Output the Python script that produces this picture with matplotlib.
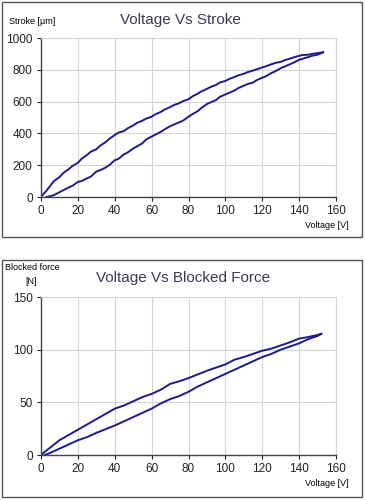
import matplotlib
matplotlib.use("Agg")
import matplotlib.pyplot as plt
import matplotlib.patches as patches

# --- Voltage vs Stroke (hysteresis) ---
stroke_up_v = [3, 5, 7, 10, 12, 15, 17, 20, 22, 25, 27, 30, 32, 35, 37, 40, 42, 45, 47, 50,
               52, 55, 57, 60, 62, 65, 67, 70, 72, 75, 77, 80, 82, 85, 87, 90, 92, 95, 97, 100,
               102, 105, 107, 110, 112, 115, 117, 120, 122, 125, 127, 130, 132, 135, 137, 140,
               142, 145, 147, 150, 153]
stroke_up = [0, 5, 12, 30, 42, 60, 70, 95, 100, 118, 128, 160, 168, 185, 200, 231, 240, 268,
             280, 305, 318, 338, 362, 380, 392, 410, 425, 445, 455, 470, 480, 505, 520, 540,
             560, 585, 595, 610, 630, 645, 655, 670, 685, 700, 710, 720, 735, 750, 760, 780,
             790, 810, 820, 835, 845, 863, 870, 880, 888, 895, 910]
stroke_dn_v = [153, 150, 147, 145, 142, 140, 137, 135, 132, 130, 127, 125, 122, 120, 117, 115,
               112, 110, 107, 105, 102, 100, 97, 95, 92, 90, 87, 85, 82, 80, 77, 75, 72, 70,
               67, 65, 62, 60, 57, 55, 52, 50, 47, 45, 42, 40, 37, 35, 32, 30, 27, 25, 22, 20,
               17, 15, 12, 10, 7, 5, 3, 1, 0]
stroke_dn = [910, 905, 900, 895, 893, 888, 878, 870, 860, 850, 843, 835, 822, 815, 803, 795,
             785, 775, 765, 755, 742, 730, 720, 705, 692, 680, 664, 650, 632, 615, 603, 590,
             578, 565, 550, 535, 520, 505, 493, 480, 466, 450, 432, 415, 405, 390, 365, 345,
             322, 300, 285, 265, 240, 215, 195, 175, 150, 125, 100, 70, 40, 15, 0]

# --- Voltage vs Blocked force ---
force_up_v = [2, 5, 10, 15, 20, 25, 30, 35, 40, 45, 50, 55, 60, 65, 70, 75, 80, 85, 90, 95,
              100, 105, 110, 115, 120, 125, 130, 135, 140, 145, 150, 152]
force_up = [0, 2, 6, 10, 14, 17, 21, 24.5, 28, 32, 36, 40, 44, 49, 53, 56, 60, 65, 69, 73,
            77, 81, 85, 89, 93, 96, 100, 103, 106, 110, 113, 115]
force_dn_v = [152, 150, 145, 140, 135, 130, 125, 120, 115, 110, 105, 100, 95, 90, 85, 80, 75,
              70, 65, 60, 55, 50, 45, 40, 35, 30, 25, 20, 15, 10, 5, 2, 0]
force_dn = [115, 114, 112, 110.5, 107, 104, 101, 99, 96, 93, 90.5, 86, 83, 80, 76.5, 73, 70,
            67.5, 62, 58, 55, 51, 47, 44, 39, 34, 29, 24, 19, 14, 7, 3, 0]

x_ticks = [0, 20, 40, 60, 80, 100, 120, 140, 160]

line_col = '#1c1c8e'
title_col = '#3a3a58'
plt.rcParams['font.family'] = ['Liberation Sans', 'DejaVu Sans']

W, H = 365, 500
fig = plt.figure(figsize=(W / 100, H / 100), dpi=100)


def fx(px):
    return px / W


def fy(py):
    return 1 - py / H


# ramki paneli
for top, bot in [(2, 237), (260, 497)]:
    fig.patches.append(patches.Rectangle((fx(2), fy(bot)), fx(360), (bot - top) / H,
                                         transform=fig.transFigure, fill=False,
                                         edgecolor='#555555', linewidth=1.0))


def setup(ax, ymax, ystep):
    ax.set_xlim(0, 160)
    ax.set_ylim(0, ymax)
    ax.set_xticks(x_ticks)
    ax.set_yticks(range(0, ymax + 1, ystep))
    ax.grid(True, color='#d4d4d4', linewidth=0.8)
    ax.set_axisbelow(True)
    for s in ['top', 'right']:
        ax.spines[s].set_color('#d4d4d4')
        ax.spines[s].set_linewidth(0.8)
    for s in ['left', 'bottom']:
        ax.spines[s].set_color('#444444')
        ax.spines[s].set_linewidth(1.0)
    ax.tick_params(labelsize=8.5, length=3, width=0.8, colors='#222222', pad=3)


ax1 = fig.add_axes([fx(41), fy(197), fx(295), 159 / H])
setup(ax1, 1000, 200)
ax1.plot(stroke_up_v, stroke_up, color=line_col, lw=1.4)
ax1.plot(stroke_dn_v, stroke_dn, color=line_col, lw=1.4)
fig.text(fx(180), fy(20), 'Voltage Vs Stroke', ha='center', va='center',
         fontsize=11, color=title_col)
fig.text(fx(9), fy(22), 'Stroke [µm]', ha='left', va='center', fontsize=6.5)
fig.text(fx(349), fy(225), 'Voltage [V]', ha='right', va='center', fontsize=6.5)

ax2 = fig.add_axes([fx(41), fy(455), fx(295), 158 / H])
setup(ax2, 150, 50)
ax2.plot(force_up_v, force_up, color=line_col, lw=1.4)
ax2.plot(force_dn_v, force_dn, color=line_col, lw=1.4)
fig.text(fx(183), fy(278), 'Voltage Vs Blocked Force', ha='center', va='center',
         fontsize=11, color=title_col)
fig.text(fx(5), fy(268), 'Blocked force', ha='left', va='center', fontsize=6.5)
fig.text(fx(25), fy(281), '[N]', ha='left', va='center', fontsize=6.5)
fig.text(fx(349), fy(484), 'Voltage [V]', ha='right', va='center', fontsize=6.5)

fig.savefig('out.png', dpi=100)
